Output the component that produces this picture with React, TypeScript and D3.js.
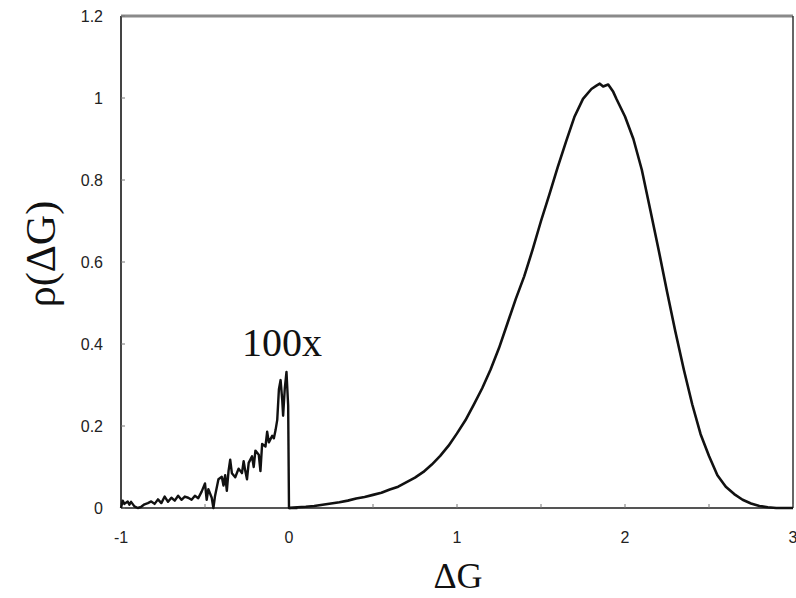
import React from "react";
import * as d3 from "d3";

// Main distribution rho(ΔG)
const mainX = [0.0, 0.05, 0.1, 0.15, 0.2, 0.25, 0.3, 0.35, 0.4, 0.45, 0.5, 0.55, 0.6, 0.65, 0.7, 0.75, 0.8, 0.85, 0.9, 0.95, 1.0, 1.05, 1.1, 1.15, 1.2, 1.25, 1.3, 1.35, 1.4, 1.45, 1.5, 1.55, 1.6, 1.65, 1.7, 1.75, 1.8, 1.83, 1.85, 1.87, 1.9, 1.93, 1.95, 2.0, 2.05, 2.1, 2.15, 2.2, 2.25, 2.3, 2.35, 2.4, 2.45, 2.5, 2.55, 2.6, 2.65, 2.7, 2.75, 2.8, 2.85, 2.9, 3.0];
const mainY = [0.0, 0.002, 0.003, 0.005, 0.008, 0.011, 0.014, 0.018, 0.023, 0.027, 0.032, 0.037, 0.045, 0.052, 0.063, 0.074, 0.088, 0.106, 0.127, 0.152, 0.182, 0.214, 0.252, 0.292, 0.338, 0.39, 0.45, 0.51, 0.565, 0.63, 0.7, 0.765, 0.832, 0.895, 0.955, 0.998, 1.022, 1.03, 1.035, 1.028, 1.033, 1.015, 0.997, 0.955, 0.9, 0.825, 0.728, 0.63, 0.528, 0.43, 0.338, 0.253, 0.18, 0.127, 0.08, 0.052, 0.034, 0.02, 0.011, 0.005, 0.002, 0.0, 0.0];

// 100x magnified tail (ΔG < 0)
const tailX = [-1.0, -0.99, -0.98, -0.96, -0.95, -0.94, -0.92, -0.9, -0.88, -0.86, -0.84, -0.82, -0.8, -0.78, -0.76, -0.74, -0.72, -0.7, -0.68, -0.66, -0.64, -0.62, -0.6, -0.58, -0.56, -0.54, -0.52, -0.5, -0.49, -0.48, -0.46, -0.45, -0.44, -0.42, -0.4, -0.39, -0.38, -0.37, -0.36, -0.35, -0.34, -0.32, -0.3, -0.28, -0.27, -0.26, -0.25, -0.24, -0.22, -0.21, -0.2, -0.18, -0.17, -0.16, -0.14, -0.13, -0.12, -0.1, -0.09, -0.08, -0.07, -0.06, -0.05, -0.04, -0.035, -0.025, -0.015, -0.005, 0.0, 0.0, 0.05];
const tailY = [0.0, 0.018, 0.01, 0.016, 0.008, 0.015, 0.004, 0.0, 0.003, 0.009, 0.012, 0.016, 0.01, 0.021, 0.012, 0.028, 0.015, 0.025, 0.018, 0.03, 0.02, 0.028, 0.025, 0.02, 0.03, 0.024, 0.04, 0.06, 0.02, 0.046, 0.025, 0.0, 0.03, 0.07, 0.076, 0.055, 0.08, 0.042, 0.09, 0.118, 0.085, 0.075, 0.096, 0.085, 0.114, 0.09, 0.07, 0.11, 0.126, 0.1, 0.14, 0.13, 0.09, 0.156, 0.15, 0.186, 0.16, 0.176, 0.17, 0.19, 0.215, 0.29, 0.312, 0.262, 0.225, 0.292, 0.332, 0.25, 0.0, 0.0, 0.0];

const xTickLabels = [-1, 0, 1, 2, 3];
const xMinorTicks = [-0.5, 0.5, 1.5, 2.5];
const yTickLabels = [0, 0.2, 0.4, 0.6, 0.8, 1, 1.2];

const W = 796, H = 598;
const L = 121, R = 793, T = 16, B = 508;

export default function App() {
  const x = d3.scaleLinear().domain([-1, 3]).range([L, R]);
  const y = d3.scaleLinear().domain([0, 1.2]).range([B, T]);
  const line = d3.line<[number, number]>().x(d => x(d[0])).y(d => y(d[1]));
  const mainPts: [number, number][] = mainX.map((v, i) => [v, mainY[i]]);
  const tailPts: [number, number][] = tailX.map((v, i) => [v, tailY[i]]);
  const tickFont = "Arial, 'Liberation Sans', sans-serif";
  const serif = "'Times New Roman', 'Liberation Serif', serif";

  return (
    <svg width={W} height={H} style={{ position: "absolute", left: 0, top: 0, background: "#fff" }}>
      {/* frame */}
      <line x1={L} x2={R} y1={T} y2={T} stroke="#8a8a8a" strokeWidth={3} />
      <line x1={R} x2={R} y1={T} y2={B} stroke="#333" strokeWidth={1.5} />
      <line x1={L} x2={L} y1={T} y2={B} stroke="#444" strokeWidth={2} />
      <line x1={L} x2={R} y1={B} y2={B} stroke="#555" strokeWidth={2} />

      {/* y ticks */}
      {yTickLabels.map(t => (
        <g key={"y" + t}>
          <line x1={L} x2={L + 4} y1={y(t)} y2={y(t)} stroke="#777" strokeWidth={1} />
          <text x={103} y={y(t)} dy="0.35em" textAnchor="end" fontFamily={tickFont} fontSize={16} fill="#222">
            {String(t)}
          </text>
        </g>
      ))}

      {/* x ticks */}
      {[...xTickLabels, ...xMinorTicks].map(t => (
        <line key={"xt" + t} x1={x(t)} x2={x(t)} y1={B} y2={B - 4} stroke="#777" strokeWidth={1} />
      ))}
      {xTickLabels.map(t => (
        <text key={"xl" + t} x={x(t)} y={543} textAnchor="middle" fontFamily={tickFont} fontSize={16} fill="#222">
          {String(t)}
        </text>
      ))}

      {/* curves */}
      <path d={line(tailPts) || ""} fill="none" stroke="#111" strokeWidth={2.4} strokeLinejoin="round" />
      <path d={line(mainPts) || ""} fill="none" stroke="#111" strokeWidth={2.6} strokeLinejoin="round" />

      {/* annotations */}
      <text x={282} y={356} textAnchor="middle" fontFamily={serif} fontSize={40} fill="#111">100x</text>
      <text x={458} y={588} textAnchor="middle" fontFamily={serif} fontSize={36} fill="#111">ΔG</text>
      <text transform={`translate(55, 254) rotate(-90)`} textAnchor="middle" fontFamily={serif} fontSize={42} fill="#111">ρ(ΔG)</text>
    </svg>
  );
}
